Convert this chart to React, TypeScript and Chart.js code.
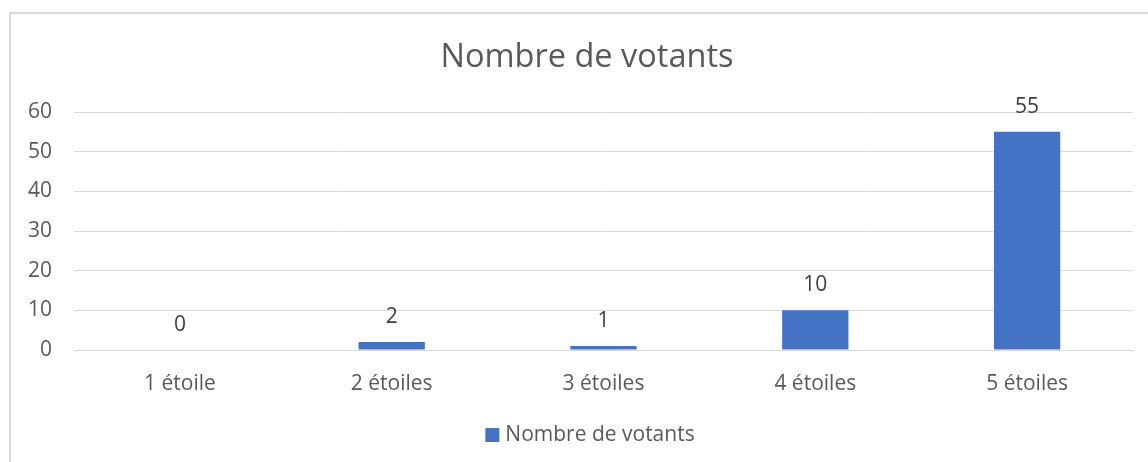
import React, { useEffect, useRef } from "react";
import { Chart, registerables } from "chart.js";

Chart.register(...registerables);

const categories: string[] = ["1 étoile", "2 étoiles", "3 étoiles", "4 étoiles", "5 étoiles"];
const votants: number[] = [0, 2, 1, 10, 55];
const seriesName = "Nombre de votants";
const chartTitle = "Nombre de votants";
const yMin = 0;
const yMax = 60;
const yStep = 10;

const FONT = "'Open Sans', sans-serif";
const BAR_COLOR = "#4472C4";

const frame = {
  id: "frame",
  beforeDraw(chart: any) {
    const { ctx, width, height } = chart;
    ctx.save();
    ctx.fillStyle = "#ffffff";
    ctx.fillRect(0, 0, width, height);
    ctx.strokeStyle = "#d9d9d9";
    ctx.lineWidth = 2;
    ctx.beginPath();
    ctx.moveTo(10, height + 2);
    ctx.lineTo(10, 13);
    ctx.lineTo(width + 2, 13);
    ctx.stroke();
    ctx.restore();
  },
};

// Title and legend, centred on the (wider, cropped) chart frame
const headerLegend = {
  id: "headerLegend",
  afterDraw(chart: any) {
    const { ctx } = chart;
    ctx.save();
    ctx.fillStyle = "#595959";
    ctx.textAlign = "center";
    ctx.textBaseline = "middle";
    ctx.font = `32.5px ${FONT}`;
    ctx.fillText(chartTitle, 587, 58);

    ctx.font = `21px ${FONT}`;
    const label = chart.data.datasets[0].label;
    const tw = ctx.measureText(label).width;
    const box = 14;
    const gap = 6;
    const total = box + gap + tw;
    const x0 = 590 - total / 2;
    const cy = 435;
    ctx.fillStyle = chart.data.datasets[0].backgroundColor;
    ctx.fillRect(x0, cy - box / 2, box, box);
    ctx.fillStyle = "#595959";
    ctx.textAlign = "left";
    ctx.fillText(label, x0 + box + gap, cy);
    ctx.restore();
  },
};

const dataLabels = {
  id: "dataLabels",
  afterDatasetsDraw(chart: any) {
    const { ctx } = chart;
    ctx.save();
    ctx.font = `21px ${FONT}`;
    ctx.fillStyle = "#404040";
    ctx.textAlign = "center";
    ctx.textBaseline = "middle";
    chart.data.datasets.forEach((ds: any, i: number) => {
      const meta = chart.getDatasetMeta(i);
      meta.data.forEach((bar: any, j: number) => {
        ctx.fillText(String(ds.data[j]), bar.x, bar.y - 25);
      });
    });
    ctx.restore();
  },
};

export default function App() {
  const ref = useRef<HTMLCanvasElement | null>(null);
  useEffect(() => {
    document.body.style.margin = "0";
    const chart = new Chart(ref.current as HTMLCanvasElement, {
      type: "bar",
      data: {
        labels: categories,
        datasets: [
          {
            label: seriesName,
            data: votants,
            backgroundColor: BAR_COLOR,
            borderWidth: 0,
            barPercentage: 0.313,
            categoryPercentage: 1,
          },
        ],
      },
      options: {
        animation: false,
        responsive: false,
        layout: { padding: { left: 0, right: 15, top: 112, bottom: 0 } },
        plugins: {
          title: { display: false },
          legend: { display: false },
          tooltip: { enabled: false },
        },
        scales: {
          x: {
            grid: { display: false, drawTicks: false },
            border: { display: true, color: "#d9d9d9", width: 1 },
            ticks: {
              color: "#595959",
              font: { family: FONT, size: 21 },
              padding: 21,
              maxRotation: 0,
            },
            afterFit(scale: any) {
              scale.height = 112;
            },
          },
          y: {
            min: yMin,
            max: yMax,
            grid: { color: "#d9d9d9", lineWidth: 1, drawTicks: false },
            border: { display: false },
            ticks: {
              stepSize: yStep,
              color: "#595959",
              font: { family: FONT, size: 21 },
              padding: 22,
            },
            afterFit(scale: any) {
              scale.width = 74;
            },
          },
        },
      },
      plugins: [frame, dataLabels, headerLegend],
    });
    return () => chart.destroy();
  }, []);
  return <canvas ref={ref} width={1148} height={462} style={{ display: "block" }} />;
}
